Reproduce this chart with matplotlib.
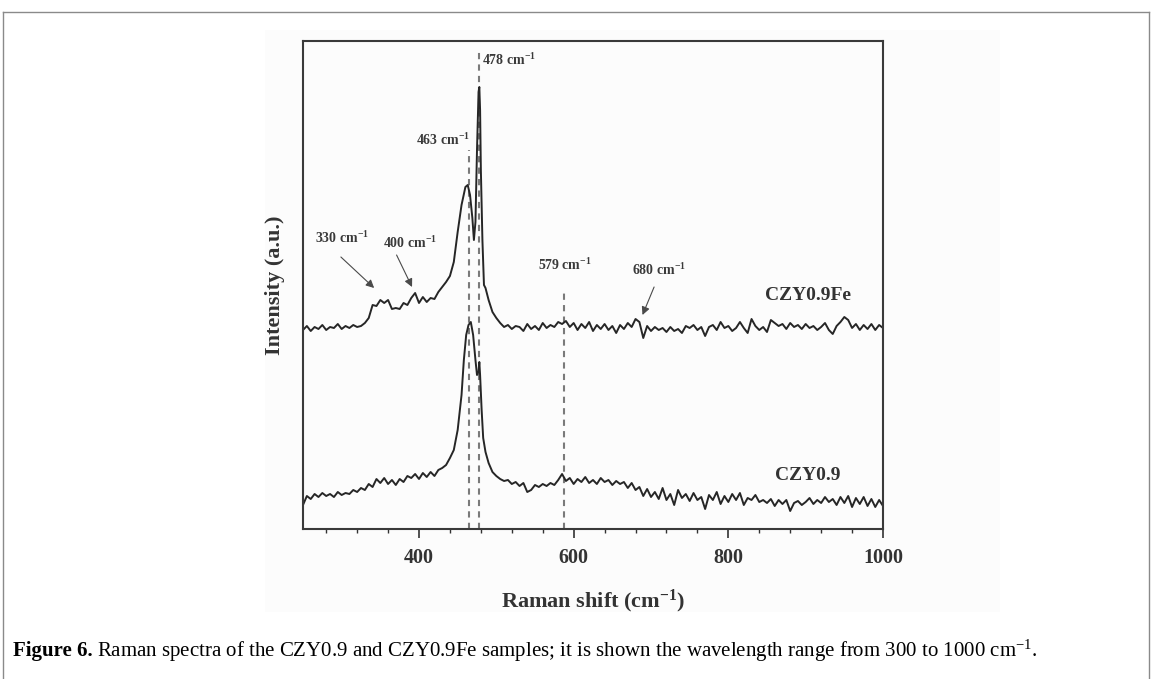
import matplotlib
matplotlib.use("Agg")
import matplotlib.pyplot as plt
from matplotlib.lines import Line2D
from matplotlib.patches import Rectangle

plt.rcParams["font.family"] = ["Liberation Serif", "DejaVu Serif"]
plt.rcParams["mathtext.default"] = "regular"

# Raman shift (cm-1) and intensity (a.u.) for CZY0.9Fe (upper trace)
fe_shift = [250, 255, 260, 265, 270, 275, 280, 285, 290, 295, 300, 305, 310, 315, 320, 325,
            330, 335, 340, 345, 350, 355, 360, 365, 370, 375, 380, 385, 390, 395, 400, 405,
            410, 415, 420, 425, 430, 435, 440, 445, 450, 455, 460, 463, 466, 469, 471, 473,
            475, 477, 478, 479, 480, 482, 484, 486, 490, 495, 500, 505, 510, 515, 520, 525,
            530, 535, 540, 545, 550, 555, 560, 565, 570, 575, 580, 585, 590, 595, 600, 605,
            610, 615, 620, 625, 630, 635, 640, 645, 650, 655, 660, 665, 670, 675, 680, 685,
            690, 695, 700, 705, 710, 715, 720, 725, 730, 735, 740, 745, 750, 755, 760, 765,
            770, 775, 780, 785, 790, 795, 800, 805, 810, 815, 820, 825, 830, 835, 840, 845,
            850, 855, 860, 865, 870, 875, 880, 885, 890, 895, 900, 905, 910, 915, 920, 925,
            930, 935, 940, 945, 950, 955, 960, 965, 970, 975, 980, 985, 990, 995, 1000]
fe_int = [199, 203, 198, 202, 200, 204, 199, 202, 201, 205, 200, 203, 201, 204, 202, 203,
          206, 211, 224, 223, 229, 226, 229, 220, 221, 220, 226, 224, 231, 236, 226, 232,
          227, 231, 230, 237, 242, 247, 253, 267, 297, 324, 342, 344, 334, 311, 289, 307,
          379, 437, 442, 419, 359, 289, 244, 241, 229, 217, 211, 206, 202, 204, 200, 203,
          202, 198, 205, 200, 203, 199, 206, 201, 204, 202, 207, 205, 208, 202, 206, 199,
          205, 201, 207, 198, 204, 200, 205, 199, 203, 196, 204, 200, 206, 202, 210, 207,
          191, 203, 198, 202, 199, 201, 197, 202, 198, 200, 196, 203, 201, 204, 199, 202,
          193, 202, 204, 199, 207, 201, 203, 198, 201, 207, 201, 196, 210, 203, 199, 202,
          197, 209, 206, 203, 205, 200, 206, 202, 204, 200, 205, 201, 203, 199, 202, 206,
          199, 195, 203, 207, 212, 209, 201, 205, 199, 204, 200, 205, 199, 204, 201]

# Raman shift (cm-1) and intensity (a.u.) for CZY0.9 (lower trace)
czy_shift = [250, 255, 260, 265, 270, 275, 280, 285, 290, 295, 300, 305, 310, 315, 320, 325,
             330, 335, 340, 345, 350, 355, 360, 365, 370, 375, 380, 385, 390, 395, 400, 405,
             410, 415, 420, 425, 430, 435, 440, 445, 450, 455, 458, 461, 464, 467, 470, 473,
             475, 477, 478, 479, 481, 483, 486, 490, 495, 500, 505, 510, 515, 520, 525, 530,
             535, 540, 545, 550, 555, 560, 565, 570, 575, 580, 585, 590, 595, 600, 605, 610,
             615, 620, 625, 630, 635, 640, 645, 650, 655, 660, 665, 670, 675, 680, 685, 690,
             695, 700, 705, 710, 715, 720, 725, 730, 735, 740, 745, 750, 755, 760, 765, 770,
             775, 780, 785, 790, 795, 800, 805, 810, 815, 820, 825, 830, 835, 840, 845, 850,
             855, 860, 865, 870, 875, 880, 885, 890, 895, 900, 905, 910, 915, 920, 925, 930,
             935, 940, 945, 950, 955, 960, 965, 970, 975, 980, 985, 990, 995, 1000]
czy_int = [24, 33, 30, 35, 32, 36, 33, 35, 32, 37, 34, 36, 35, 39, 37, 41,
           39, 45, 42, 50, 46, 51, 45, 49, 44, 50, 47, 53, 51, 55, 50, 56,
           52, 57, 53, 59, 61, 64, 71, 79, 99, 134, 169, 194, 204, 207, 194, 169,
           154, 157, 167, 154, 119, 91, 77, 66, 57, 53, 50, 48, 49, 45, 47, 43,
           46, 37, 39, 44, 42, 45, 43, 46, 44, 49, 55, 48, 51, 45, 50, 47,
           52, 46, 49, 45, 51, 47, 49, 44, 48, 45, 47, 41, 46, 39, 42, 33,
           40, 32, 37, 30, 41, 29, 35, 24, 39, 31, 35, 28, 36, 29, 32, 20,
           34, 29, 37, 25, 33, 27, 35, 29, 36, 24, 31, 29, 34, 27, 29, 26,
           30, 23, 29, 25, 29, 18, 26, 28, 24, 27, 31, 25, 29, 26, 32, 27,
           30, 24, 32, 26, 33, 22, 31, 25, 32, 23, 30, 22, 29, 23]

# dashed reference lines: position and top of each line
ref_pos = [465, 478, 587]
ref_top = [379, 477, 239]

# peak labels: text, label anchor, arrow tip (None = no arrow)
peak_labels = ["330 cm$^{-1}$", "400 cm$^{-1}$", "463 cm$^{-1}$", "478 cm$^{-1}$",
               "579 cm$^{-1}$", "680 cm$^{-1}$"]
label_xy = [(300, 291), (388, 286), (466, 389), (482, 469), (588, 264), (711, 259)]
label_ha = ["center", "center", "right", "left", "center", "center"]
arrow_from = [(299, 272), (371, 274), None, None, None, (704, 242)]
arrow_to = [(342, 241), (391, 242), None, None, None, (689, 214)]

sample_names = ["CZY0.9Fe", "CZY0.9"]
sample_xy = [(903, 234), (903, 54)]

fig = plt.figure(figsize=(11.52, 6.79), dpi=100)

# faint page background behind the figure image and the outer frame
fig.patches.append(Rectangle((265 / 1152, 1 - 612 / 679), 735 / 1152, 582 / 679,
                             transform=fig.transFigure, facecolor="#fcfcfc",
                             edgecolor="none", zorder=-5))
frame = dict(color="#8a8a8a", lw=1.0, transform=fig.transFigure)
fig.lines.append(Line2D([3 / 1152, 1149 / 1152], [1 - 12 / 679, 1 - 12 / 679], **frame))
fig.lines.append(Line2D([3 / 1152, 3 / 1152], [0, 1 - 12 / 679], **frame))
fig.lines.append(Line2D([1149 / 1152, 1149 / 1152], [0, 1 - 12 / 679], **frame))

ax = fig.add_axes([303 / 1152, 150 / 679, 580 / 1152, 488 / 679])
ax.set_facecolor("none")

ax.plot(fe_shift, fe_int, color="#262626", lw=1.4)
ax.plot(czy_shift, czy_int, color="#262626", lw=1.4)

for pos, top in zip(ref_pos, ref_top):
  ax.vlines(pos, 0, top, colors="#7a7a7a", linestyles=(0, (3, 2.5)), lw=1.5, zorder=1)

for text, xy, ha, src, dst in zip(peak_labels, label_xy, label_ha, arrow_from, arrow_to):
  ax.text(xy[0], xy[1], text, ha=ha, va="center", fontsize=10, fontweight="bold",
          color="#3a3a3a")
  if src is not None:
    ax.annotate("", xy=dst, xytext=src,
                arrowprops=dict(arrowstyle="-|>", color="#4a4a4a", lw=0.8,
                                mutation_scale=12, shrinkA=0, shrinkB=0))

for name, xy in zip(sample_names, sample_xy):
  ax.text(xy[0], xy[1], name, ha="center", va="center", fontsize=14,
          fontweight="bold", color="#333333")

ax.set_xlim(250, 1000)
ax.set_ylim(0, 488)
ax.set_xticks([400, 600, 800, 1000])
ax.set_xticks(range(280, 1000, 40), minor=True)
ax.set_yticks([])
ax.tick_params(axis="x", which="major", direction="out", length=6.5, width=1.2,
               pad=7, labelsize=14.5, color="#333333")
ax.tick_params(axis="x", which="minor", direction="out", length=3, width=1.0,
               color="#333333")
for lab in ax.get_xticklabels():
  lab.set_fontweight("bold")
  lab.set_color("#333333")
for sp in ax.spines.values():
  sp.set_linewidth(1.5)
  sp.set_color("#3a3a3a")

ax.set_xlabel("Raman shift (cm$^{-1}$)", fontsize=16, fontweight="bold", color="#333333")
ax.xaxis.set_label_coords(0.5, -0.121)
ax.xaxis.label.set_va("top")
ax.set_ylabel("Intensity (a.u.)", fontsize=16, fontweight="bold", color="#333333")
ax.yaxis.set_label_coords(-0.031, 0.5)

# caption below the chart: bold lead-in followed by regular text
cap_y = 1 - 651 / 679
lead = fig.text(13 / 1152, cap_y, "Figure 6.", fontsize=15, fontweight="bold",
                va="center", ha="left")
fig.canvas.draw()
bb = lead.get_window_extent().transformed(fig.transFigure.inverted())
fig.text(bb.x1 + 4 / 1152, cap_y,
         "Raman spectra of the CZY0.9 and CZY0.9Fe samples; it is shown the wavelength "
         "range from 300 to 1000 cm$^{-1}$.",
         fontsize=15, va="center", ha="left")

fig.savefig("out.png", dpi=100)
